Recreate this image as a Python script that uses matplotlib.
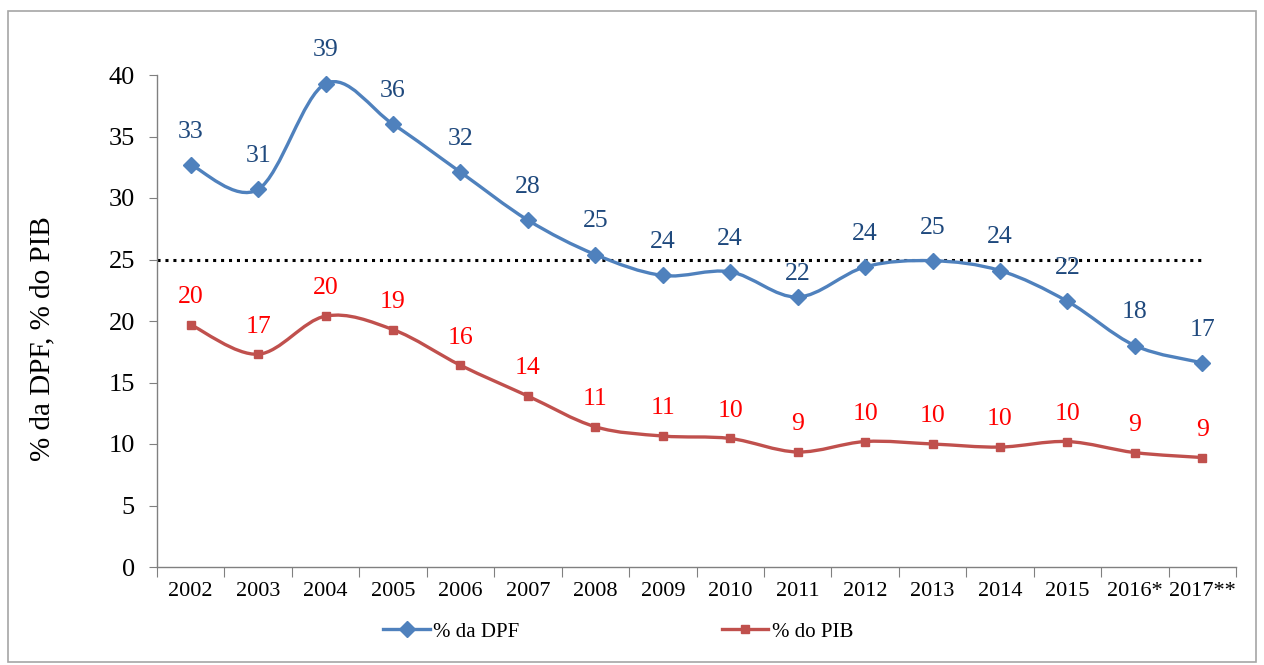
import numpy as np
import matplotlib
matplotlib.use("Agg")
import matplotlib.pyplot as plt
from matplotlib.path import Path
from matplotlib.patches import PathPatch, Rectangle
from matplotlib.lines import Line2D

# Data
years = ["2002", "2003", "2004", "2005", "2006", "2007", "2008", "2009",
         "2010", "2011", "2012", "2013", "2014", "2015", "2016*", "2017**"]
pct_dpf = [32.7, 30.7, 39.3, 36.0, 32.1, 28.2, 25.4, 23.7,
           24.0, 21.95, 24.4, 24.9, 24.1, 21.6, 18.0, 16.6]
pct_pib = [19.7, 17.3, 20.4, 19.3, 16.4, 13.9, 11.4, 10.65,
           10.45, 9.35, 10.2, 10.0, 9.75, 10.2, 9.3, 8.9]
reference_level = 25

plt.rcParams['font.family'] = ['Liberation Serif', 'DejaVu Serif']

blue_line = "#4F81BD"
blue_text = "#1F497D"
red_line = "#C0504D"
red_text = "#FF0000"


def smooth_path(xs, ys):
    # Excel-like smoothed line: Catmull-Rom segments as cubic Bezier curves
    pts = np.column_stack([xs, ys]).astype(float)
    ext = np.vstack([pts[0], pts, pts[-1]])
    verts = [pts[0]]
    codes = [Path.MOVETO]
    for i in range(len(pts) - 1):
        p0, p1, p2, p3 = ext[i], ext[i + 1], ext[i + 2], ext[i + 3]
        c1 = p1 + (p2 - p0) / 6.0
        c2 = p2 - (p3 - p1) / 6.0
        verts += [c1, c2, p2]
        codes += [Path.CURVE4] * 3
    return Path(verts, codes)


fig = plt.figure(figsize=(12.64, 6.65), dpi=100)
fig.patches.append(Rectangle((8 / 1264, 3 / 665), 1248 / 1264, 651 / 665,
                             transform=fig.transFigure, fill=False,
                             edgecolor="#A6A6A6", linewidth=1.2))
ax = fig.add_axes([157 / 1264, 98 / 665, 1079 / 1264, 492 / 665])

x = np.arange(len(years))

ax.plot([x[0] - 0.5, x[-1]], [reference_level, reference_level],
        color="black", linestyle=(0, (1, 1.6)), linewidth=2.2, zorder=1)

for vals, col, mk, ms, tcol, off in [
        (pct_dpf, blue_line, "D", 8.5, blue_text, 16),
        (pct_pib, red_line, "s", 5.5, red_text, 12)]:
    ax.add_patch(PathPatch(smooth_path(x, vals), facecolor="none",
                           edgecolor=col, linewidth=2.4, zorder=2))
    ax.plot(x, vals, linestyle="none", marker=mk, markersize=ms,
            color=col, zorder=3)
    for xi, v in zip(x, vals):
        dy = off
        if vals is pct_dpf and years[xi] == "2011":
            dy = off - 7  # this label sits just under the dotted line
        ax.annotate(f"{v:.0f}", (xi, v), xytext=(0, dy),
                    textcoords="offset points", ha="center", va="bottom",
                    fontsize=18.5, color=tcol)

ax.set_xlim(-0.5, len(years) - 0.5)
ax.set_ylim(0, 40)
ax.set_yticks(range(0, 41, 5))
ax.tick_params(axis="y", labelsize=19, length=6, color="#808080", pad=10)

ax.set_xticks(np.arange(len(years) + 1) - 0.5)
ax.set_xticklabels([])
ax.tick_params(axis="x", which="major", length=7, color="#808080")
ax.set_xticks(x, minor=True)
ax.set_xticklabels(years, minor=True)
ax.tick_params(axis="x", which="minor", length=0, labelsize=16, pad=11)

for side in ["top", "right"]:
    ax.spines[side].set_visible(False)
for side in ["left", "bottom"]:
    ax.spines[side].set_color("#808080")
    ax.spines[side].set_linewidth(1.0)

ax.set_ylabel("% da DPF, % do PIB", fontsize=21)
ax.yaxis.set_label_coords(-0.094, 0.465)

handles = [Line2D([], [], color=blue_line, linewidth=2.4, marker="D", markersize=8.5),
           Line2D([], [], color=red_line, linewidth=2.4, marker="s", markersize=5.5)]
fig.legend(handles, ["% da DPF", "% do PIB"], loc="center",
           bbox_to_anchor=(0.489, 0.05), ncol=2, frameon=False,
           fontsize=15, handlelength=2.25, handletextpad=0.15, columnspacing=9.7)

fig.savefig("out.png", dpi=100)
